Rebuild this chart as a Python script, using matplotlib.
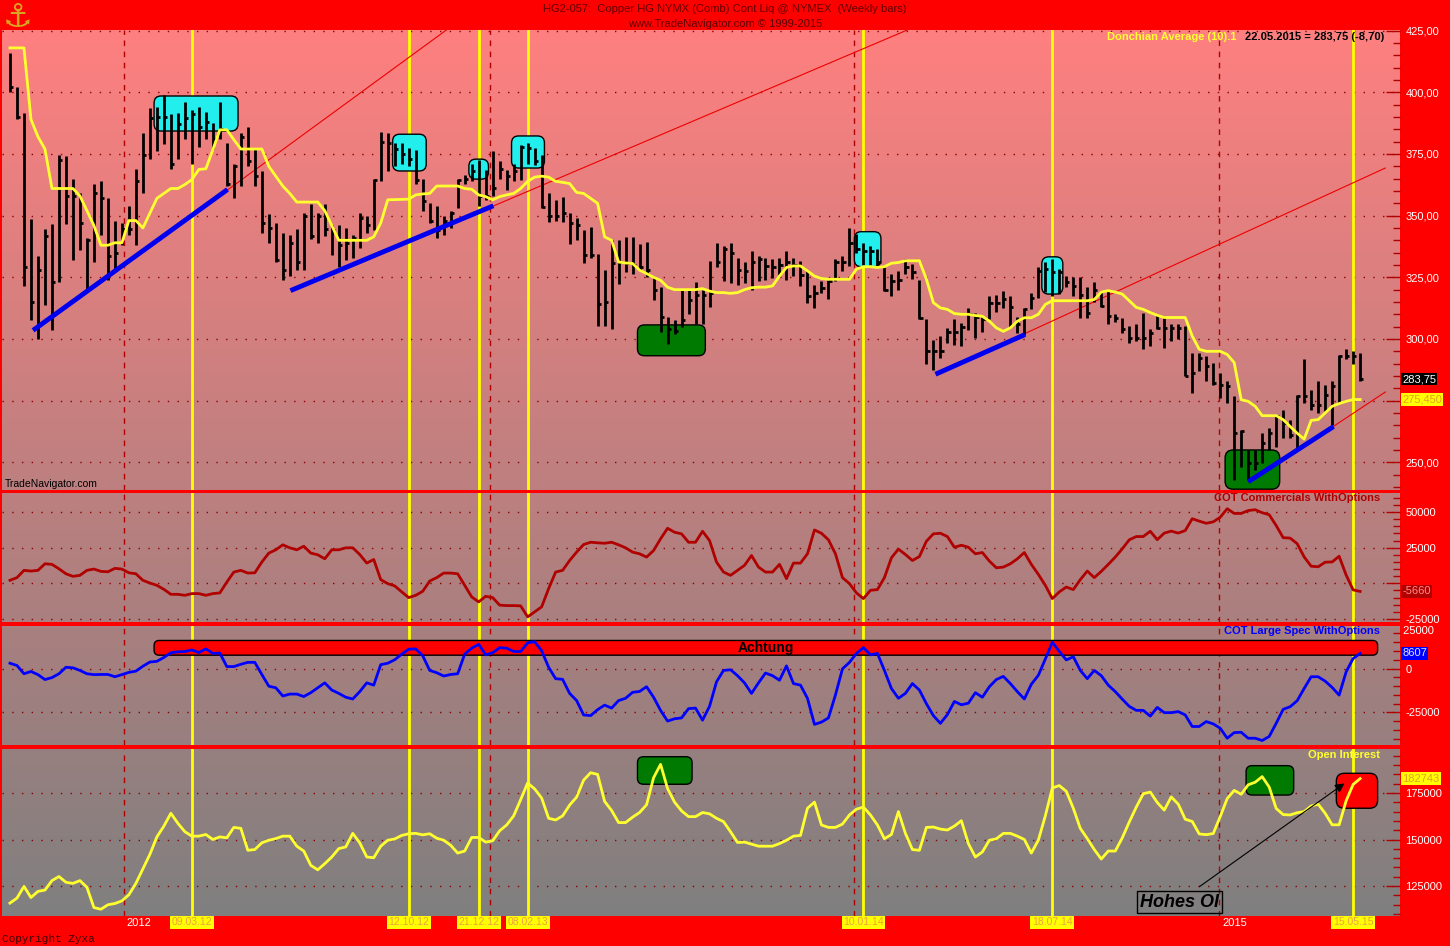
import numpy as np
import pandas as pd
import matplotlib
matplotlib.use("Agg")
import matplotlib.pyplot as plt
import matplotlib.transforms as mtrans
from matplotlib.patches import FancyBboxPatch
from matplotlib.ticker import MultipleLocator, FuncFormatter

plt.rcParams['font.family'] = ['Liberation Sans', 'DejaVu Sans']

# ---- weekly copper bars ----
first_bar = "2011-09-09"

highs = [416, 402, 391.5, 348.5, 333.7, 344.5, 346.5, 374.7, 374, 365,
         359, 341, 363, 364, 357, 348, 347, 354, 369, 383.5,
         393.5, 394, 399, 391, 391.5, 396, 393, 394, 392, 387.5,
         396, 379.4, 371, 383.5, 386, 377.4, 368, 350.5, 347, 343,
         342, 344.5, 351, 354.6, 351, 354.6, 346, 346, 345, 342,
         351, 350, 365, 384, 383.6, 379.5, 379.5, 377.4, 376.8, 365,
         355, 354, 350, 352, 365, 366.6, 371, 372.7, 368.6, 376,
         372, 368.6, 371, 378.8, 379.5, 377.4, 374.7, 359, 356.4, 357.7,
         351, 349, 344, 345.5, 334.6, 327.9, 340, 340, 341.4, 341.4,
         338.7, 339.4, 325, 321, 308.8, 307.5, 319.7, 319.7, 323, 320,
         331.7, 339, 337.8, 339, 333, 331, 335.7, 333.7, 333, 332.3,
         333, 335.7, 333, 331.7, 328, 322, 323.5, 324, 332.3, 333.7,
         345, 342.5, 339, 337.8, 336.4, 329, 326.2, 327.6, 332.3, 330.3,
         324, 308, 299.7, 301, 304.5, 308, 306.5, 312.6, 310.6, 309,
         317.4, 318, 319.4, 317.4, 309, 312.6, 318.8, 329, 331, 332.5,
         328.4, 325.7, 325, 325, 321, 323, 318.9, 319.6, 310, 308.7,
         305.3, 306, 310.7, 304, 310, 309.4, 306, 306, 305.3, 294.4,
         294.4, 293, 290.4, 286.3, 283, 276.8, 263, 255, 255, 261.8,
         263.8, 269.3, 271.3, 267.3, 277.4, 291.7, 279.5, 283, 281.5, 283,
         293.7, 295.8, 295, 294.4]

lows = [400, 389, 321.6, 307.5, 300, 313.6, 303.5, 323, 346.5, 332,
        336, 320, 331, 342, 324, 328, 338, 342, 338, 359,
        373, 376, 379, 369, 373, 381, 371, 378, 381, 377,
        381, 362, 357, 362, 370, 362, 343, 339, 331, 324,
        325.7, 328, 328, 340.5, 339, 341.8, 334, 329, 332, 333,
        337, 343, 344, 364, 368, 370, 371, 370, 363, 352,
        347, 341, 342, 345, 353, 363, 364, 354, 356.4, 358,
        365, 360.5, 364, 364.5, 371, 370.6, 353, 347.6, 348, 347.6,
        338.7, 340, 330.6, 333, 305.4, 305.4, 304, 322.4, 327, 326.5,
        327.9, 325, 315.6, 303, 298, 302, 304.8, 310, 306, 306,
        313, 329, 323.5, 322.8, 322, 322.8, 320, 323.5, 324, 324.9,
        326, 324, 325.5, 321.5, 314.7, 312.6, 318.8, 316, 323.5, 327.6,
        329.6, 335, 330, 330, 329.6, 319.4, 317.4, 320, 326.2, 324.2,
        308, 290, 287.5, 292.3, 298.4, 297.7, 297, 303.8, 300.4, 303,
        308, 311, 312.6, 305, 302.4, 301.8, 312, 316.7, 319, 317.5,
        318.2, 321, 317.5, 308.7, 308.7, 314.8, 312.8, 306, 306.7, 302.6,
        298.5, 299, 295.8, 297, 304, 296.5, 299, 300, 285, 278,
        287, 283, 281.5, 276, 274, 242.8, 248, 242.8, 246.9, 249.6,
        255, 256.4, 259.8, 259.8, 255.7, 274, 271.3, 270, 270.6, 265.2,
        274, 291.7, 289.7, 283]

closes = [402, 390, 329, 315, 328, 341.8, 323, 372.7, 358, 358,
          347, 340, 359, 357, 333.7, 335, 344.5, 344.5, 364, 374.7,
          389.5, 390, 390, 371, 387, 389.5, 391, 386, 388, 381,
          385, 363, 370, 382, 372, 366, 347, 345, 332, 328,
          339, 331, 350, 341.8, 350, 344.5, 344, 338, 339, 341,
          349, 346, 364.5, 380, 379.5, 377, 375, 373, 364.5, 356,
          348, 344, 348, 351, 364.5, 365, 368, 358, 358, 361,
          369, 366, 368, 378, 377.4, 372, 353.7, 350, 350, 351,
          347, 346, 334, 334, 314, 315, 330.6, 331, 330.6, 330,
          329, 328, 320, 308.8, 304, 303.4, 307.5, 315.6, 318, 318,
          318.8, 331, 336.4, 335, 328, 327.6, 331, 332.3, 329.6, 329,
          330, 331, 330, 326, 317.4, 318.8, 320.8, 323.5, 331, 331,
          339, 336.4, 335.7, 335.7, 331, 320, 323.5, 324, 329, 327,
          308.6, 295, 295, 295, 303, 303, 305, 310, 309, 308,
          314.7, 314.7, 316, 313, 306, 312, 316.7, 327.6, 328.4, 327,
          327, 323, 321.6, 318, 310.7, 320, 313.5, 309.4, 308.7, 304,
          300.5, 300.5, 300.5, 302.6, 304.6, 304.6, 304.6, 304.6, 285, 286,
          292.4, 289, 282, 281.5, 280.8, 262, 262.5, 249.6, 249.6, 257.7,
          261.8, 268.6, 265.9, 261, 276.8, 276.8, 273.4, 273.4, 277.4, 280.8,
          293, 293, 293, 283.75]

donchian = [418, 418, 418, 389, 382, 377, 361, 361, 361, 361,
            358, 352, 346, 338, 338, 339, 339, 348, 348, 345,
            351, 357, 359, 361, 361, 362.6, 364.6, 368.7, 369, 376.7,
            384.8, 384.8, 380.8, 377, 377, 377, 377, 370, 366, 362,
            359, 355.5, 355.5, 355.5, 355.5, 352, 346, 340, 340, 340,
            340, 340, 341.4, 347, 356.4, 356.5, 356.6, 356.7, 358.4, 358.8,
            359, 362, 362, 362, 362, 361, 360.7, 358.4, 357.7, 356.4,
            357.7, 358.4, 359, 361, 363.9, 365.6, 366, 365.6, 363.9, 363.5,
            363, 359.4, 359, 357, 355, 341.4, 340, 331.2, 330.8, 330.6,
            327.9, 326.5, 325, 323.8, 321, 320, 320, 320, 320, 320.4,
            319.4, 318.8, 318.8, 318.5, 318.8, 320, 320.8, 321, 321, 321.5,
            325.5, 329, 329.6, 329.6, 327.6, 325.5, 324.5, 324.2, 324.2, 324.2,
            324.2, 328.3, 329.3, 329.3, 329, 329.3, 330.7, 331, 331.7, 331.7,
            331.7, 324.2, 314.7, 312.6, 312, 310.3, 310, 310, 309.5, 309.2,
            307.2, 304.5, 303.1, 304.5, 307.2, 308.6, 308.6, 310, 314, 315.5,
            315.5, 315.5, 315.5, 315.5, 315.5, 316, 319, 319.6, 319, 318.2,
            315.5, 312.8, 312, 310.7, 309.6, 308.7, 308.7, 308.7, 308.7, 301.2,
            295.8, 295, 295, 295, 293.7, 290.4, 275.4, 274.7, 272.7, 268.9,
            268.9, 268.9, 267.3, 264.5, 261.8, 259.4, 267, 267.3, 270, 272.7,
            273.8, 274.7, 275.45, 275.45]

commercials = [2100, 4000, 9100, 8600, 9100, 13700, 13300, 10200, 6700, 4900,
               5600, 9100, 10000, 8400, 8100, 10500, 10000, 7400, 6700, 2100,
               200, -1400, -4200, -7700, -7700, -8400, -7200, -7200, -8400, -7200,
               -6700, 900, 7900, 9100, 7200, 7400, 14900, 21200, 23500, 27000,
               24900, 23500, 26000, 21200, 20000, 17200, 23500, 23500, 24900, 24900,
               20200, 14200, 16700, 2600, -200, -1800, -6000, -10000, -8400, -5600,
               1600, 4000, 7200, 7200, 6700, -1400, -9500, -13000, -9100, -10000,
               -15300, -15600, -15600, -15800, -23500, -20000, -16500, -3700, 7900, 9100,
               16000, 21900, 27200, 28800, 28400, 28100, 28800, 27000, 24900, 21900,
               20700, 18400, 23000, 31200, 38600, 35800, 34700, 28800, 28800, 36500,
               30000, 14900, 7900, 5600, 9100, 12600, 19500, 11400, 7900, 7900,
               13300, 3300, 14200, 14200, 20700, 37400, 35100, 30500, 20700, 4000,
               -200, -6700, -10700, -4900, -4400, 4000, 17900, 24000, 20200, 16000,
               18800, 29500, 34700, 35100, 32800, 25300, 26700, 25300, 20700, 21600,
               15600, 10900, 11400, 13700, 17200, 21600, 13300, 6300, -1400, -10700,
               -6000, -2600, -4400, 2600, 8600, 4000, 8400, 13300, 18400, 24200,
               30500, 32800, 32800, 36500, 30600, 35200, 36600, 35200, 37000, 45300,
               43600, 42100, 43100, 46300, 52300, 49000, 49000, 51000, 51600, 49500,
               48100, 40500, 32000, 31700, 27800, 18500, 12000, 11600, 14800, 15000,
               19000, 5800, -4600, -5660]

large_spec = [3000, 1700, -3000, -1700, -3500, -6300, -5200, -3000, 700, 400,
              -1100, -3000, -3500, -3400, -3400, -4700, -3500, -2200, -1500, 1300,
              3700, 4100, 6300, 9000, 9500, 9700, 10600, 9100, 11200, 8600,
              8800, 1100, 1100, 2400, 3500, 3500, -3400, -10100, -11000, -15700,
              -14600, -14600, -16000, -13800, -11000, -8200, -12300, -14200, -16400, -17400,
              -13200, -8200, -9500, 2200, 3000, 5000, 8200, 11000, 11200, 7300,
              -1100, -2400, -4300, -3400, -3000, 8200, 11600, 13800, 7800, 9000,
              11900, 11600, 9700, 9700, 14700, 15300, 10100, 700, -5800, -6200,
              -14200, -18300, -26500, -26900, -23500, -20900, -22600, -18300, -17000, -13600,
              -13100, -10400, -16400, -23900, -30000, -28700, -28200, -22900, -22600, -29500,
              -21600, -7600, -1100, -700, -4100, -8200, -14200, -8200, -2600, -4100,
              -6700, 1500, -8600, -9500, -17000, -31900, -30600, -28200, -15100, -200,
              3500, 8600, 11900, 7800, 8600, -1100, -11400, -17000, -14200, -8600,
              -12300, -20100, -26900, -31300, -26300, -18800, -20700, -19800, -13800, -16400,
              -10400, -6300, -4500, -8600, -13200, -17400, -9000, -3900, 5400, 15000,
              9700, 4900, 6700, -1100, -5800, -1100, -4100, -9500, -13200, -17500,
              -21600, -23900, -23900, -27200, -22200, -25200, -25200, -24600, -26500, -33100,
              -33100, -30300, -31600, -34100, -39800, -36600, -36400, -39800, -39800, -41100,
              -38800, -31300, -23300, -21800, -18400, -11400, -4700, -4700, -7200, -10800,
              -15200, -1900, 5700, 8607]

open_interest = [115800, 118500, 124800, 118800, 122100, 122800, 127900, 130100, 127000, 126400,
                 127900, 124300, 113400, 112500, 114900, 115600, 117000, 120300, 126400, 134200,
                 142000, 151400, 157200, 164100, 158700, 154200, 151800, 151800, 152700, 150000,
                 151400, 150900, 156500, 156000, 144200, 144600, 148200, 149600, 150500, 151800,
                 151800, 146400, 143800, 136100, 133700, 137000, 140600, 145100, 146000, 153300,
                 148200, 140600, 140200, 146400, 149600, 150300, 152200, 153100, 153300, 152500,
                 153100, 150700, 149600, 146900, 142700, 143800, 151100, 151100, 148600, 149300,
                 154700, 157800, 162700, 171400, 180400, 177200, 172300, 161400, 160500, 162700,
                 168500, 172800, 181900, 185900, 185000, 170500, 165600, 159100, 159100, 162000,
                 164500, 168700, 183200, 190400, 177400, 170100, 165400, 162300, 162300, 164500,
                 163800, 161400, 159600, 154200, 148400, 148600, 147500, 146400, 146400, 146400,
                 147800, 149600, 151800, 152200, 166800, 170100, 157800, 156500, 156500, 158300,
                 163200, 166300, 167400, 163200, 157800, 150400, 152700, 165000, 153300, 144600,
                 144200, 156500, 156700, 155600, 155100, 157200, 160100, 147800, 140600, 143300,
                 149600, 150400, 153300, 153300, 151800, 150000, 142700, 149600, 162700, 177700,
                 179000, 175900, 166800, 156000, 150500, 144600, 139500, 143800, 143800, 150900,
                 159400, 167400, 174600, 175500, 169900, 165800, 172900, 169000, 160900, 159700,
                 153000, 152600, 153200, 162300, 172000, 176400, 174300, 179400, 180800, 183800,
                 178200, 166700, 163400, 163200, 164400, 165000, 168000, 169000, 164100, 157900,
                 157900, 170800, 179600, 182743]

event_dates = ["2012-03-09", "2012-10-12", "2012-12-21", "2013-02-08",
               "2014-01-10", "2014-07-18", "2015-05-15"]
event_labels = ["09.03.12", "12.10.12", "21.12.12", "08.02.13",
                "10.01.14", "18.07.14", "15.05.15"]
years = [2012, 2013, 2014, 2015]
labelled_years = [2012, 2015]   # 2013 and 2014 sit under the date boxes

dates = pd.date_range(first_bar, periods=len(closes), freq="7D")
x = ((dates - dates[0]).days / 7.0).to_numpy()


def pos(d):
    return (pd.Timestamp(d) - dates[0]).days / 7.0


# ---- figure layout (pixel based) ----
W, H = 1450, 946
fig = plt.figure(figsize=(W / 100, H / 100), dpi=100, facecolor="#FF0000")

TOP_COL = np.array([1.0, 0.5, 0.5])
BOT_COL = np.array([0.5, 0.5, 0.5])


def grad(py):
    t = (py - 30) / (916 - 30)
    return TOP_COL + (BOT_COL - TOP_COL) * t


def lim(v1, p1, v2, p2, top, bot):
    k = (v2 - v1) / (p2 - p1)
    return v1 + (bot - p1) * k, v1 + (top - p1) * k


def make_panel(top, bot, ylims, major, minor, fmt):
    ax = fig.add_axes([2 / W, 1 - bot / H, 1398 / W, (bot - top) / H])
    ax.set_facecolor("none")
    g = np.linspace(0, 1, 200)[:, None, None]
    img = grad(top) * (1 - g) + grad(bot) * g
    ax.imshow(img, extent=[0, 1, 0, 1], transform=ax.transAxes, aspect="auto", zorder=0)
    ax.set_xlim(-1.14, 198.7)
    ax.set_ylim(*ylims)
    for s in ax.spines.values():
        s.set_visible(False)
    ax.set_xticks([])
    ax.yaxis.tick_right()
    ax.yaxis.set_major_locator(MultipleLocator(major))
    ax.yaxis.set_minor_locator(MultipleLocator(minor))
    ax.yaxis.set_major_formatter(FuncFormatter(fmt))
    ax.tick_params(axis="y", which="major", direction="in", length=10, width=1,
                   color="#B00000", labelcolor="white", labelsize=8, pad=4)
    ax.tick_params(axis="y", which="minor", direction="in", length=5, width=1, color="#B00000")
    ax.grid(axis="y", which="major", color="#8B0000", linestyle=(0, (1, 6)), lw=1)
    ax.set_axisbelow(True)
    for yr in years:
        ax.axvline(pos(f"{yr}-01-01"), color="#B00000", ls=(0, (4, 4)), lw=1, zorder=1)
    for d in event_dates:
        ax.axvline(pos(d), color="#FFFF00", lw=2, zorder=2)
    return ax


# labels hidden behind the value tags are left blank
price_fmt = lambda v, _: "" if abs(v - 275) < 1 else f"{v:.2f}".replace(".", ",")
com_fmt = lambda v, _: "" if abs(v) < 1 else f"{v:.0f}"
int_fmt = lambda v, _: f"{v:.0f}"

ax_p = make_panel(30, 490, lim(400, 92.3, 250, 462.3, 30, 490), 25, 5, price_fmt)
ax_c = make_panel(493, 622, lim(50000, 512, -25000, 619, 493, 622), 25000, 5000, com_fmt)
ax_s = make_panel(626, 745, lim(0, 668.5, -25000, 712.3, 626, 745), 25000, 5000, int_fmt)
ax_o = make_panel(749, 916, lim(175000, 793, 125000, 886, 749, 916), 25000, 5000, int_fmt)


def rbox(ax, x0, x1, y0, y1, fc, r=7, z=3):
    inv = ax.transData.inverted()
    (a0, b0), (a1, b1) = inv.transform([(0, 0), (1, 1)])
    ux, uy = abs(a1 - a0), abs(b1 - b0)
    ax.add_patch(FancyBboxPatch((x0, y0), x1 - x0, y1 - y0,
                                boxstyle=f"round,pad=0,rounding_size={r * ux}",
                                mutation_aspect=uy / ux, fc=fc, ec="black", lw=1, zorder=z))


# ---- price panel ----
cyan_boxes = [(20.6, 32.6, 384.3, 398.5), (54.7, 59.5, 368.1, 383.0), (65.6, 68.4, 364.8, 372.9),
              (71.7, 76.4, 369.3, 382.3), (120.7, 124.5, 329.3, 343.5), (147.5, 150.5, 318.2, 333.3)]
for b in cyan_boxes:
    rbox(ax_p, *b, fc="#22EEEE", r=7)
rbox(ax_p, 89.7, 99.4, 293.2, 305.7, fc="#007A00", r=7)
rbox(ax_p, 173.7, 181.5, 239.1, 255.0, fc="#007A00", r=8)

red_trends = [((31.1, 360.4), (62.4, 425.3)), ((69.1, 353.9), (128.3, 425.3)),
              ((144.7, 301.7), (196.6, 369.3)), ((189.1, 264.4), (196.6, 278.5))]
for (a, b) in red_trends:
    ax_p.plot([a[0], b[0]], [a[1], b[1]], color="#EE0000", lw=0.8, zorder=3)

ax_p.vlines(x, lows, highs, colors="black", lw=2, zorder=5)
ax_p.hlines(closes, x, x + 0.45, colors="black", lw=2, zorder=5)
ax_p.plot(x, donchian, color="#FFFF30", lw=2, zorder=6)

blue_trends = [((3.3, 303.5), (31.1, 360.6)), ((40.1, 319.6), (69.1, 354.0)),
               ((132.3, 285.7), (145.1, 301.8)), ((177.0, 242.1), (189.2, 264.5))]
for (a, b) in blue_trends:
    ax_p.plot([a[0], b[0]], [a[1], b[1]], color="#0000EE", lw=3.5, zorder=7,
              solid_capstyle="butt")

# ---- commercials ----
ax_c.plot(x, commercials, color="#B00000", lw=2, zorder=6)

# ---- large spec ----
rbox(ax_s, 20.6, 195.5, 7600, 16000, fc="#FF0000", r=5)
ax_s.text(108.1, 11800, "Achtung", ha="center", va="center", fontsize=10,
          fontweight="bold", color="black", zorder=4)
ax_s.plot(x, large_spec, color="#0000FF", lw=2, zorder=6)
ax_s.text(1.0, 1.0, " 25000", transform=ax_s.transAxes, ha="left", va="top",
          fontsize=8, color="white", clip_on=False)

# ---- open interest ----
rbox(ax_o, 89.7, 97.5, 179700, 194500, fc="#007A00", r=6)
rbox(ax_o, 176.7, 183.5, 173900, 189700, fc="#007A00", r=6)
rbox(ax_o, 189.6, 195.5, 166800, 185600, fc="#FF0000", r=8)
ax_o.plot(x, open_interest, color="#FFFF30", lw=2, zorder=6)
ax_o.annotate("", xy=(191.1, 181080), xytext=(169.7, 123760),
              arrowprops=dict(arrowstyle="-|>", color="black", lw=0.8, mutation_scale=14),
              zorder=7)
ax_o.text(167.2, 116300, "Hohes OI", ha="center", va="center", fontsize=13,
          fontweight="bold", style="italic", color="black", zorder=8,
          bbox=dict(boxstyle="square,pad=0.15", fc="none", ec="black", lw=1))

# ---- value tags on the right scale ----
def tag(ax, v, s, fc, tc):
    tr = mtrans.blended_transform_factory(ax.transAxes, ax.transData)
    ax.text(1.0015, v, s, transform=tr, ha="left", va="center", fontsize=8, color=tc,
            bbox=dict(boxstyle="square,pad=0.12", fc=fc, ec="none"), clip_on=False, zorder=10)


tag(ax_p, closes[-1], "283,75", "black", "white")
tag(ax_p, donchian[-1], "275,450", "#FFFF00", "#E8A020")
tag(ax_c, commercials[-1], "-5660", "#B00000", "#FF8C8C")
tag(ax_s, large_spec[-1], "8607", "#0000FF", "#DDDDFF")
tag(ax_o, open_interest[-1], "182743", "#FFFF00", "#E8A020")

# ---- bottom date labels ----
trb = mtrans.blended_transform_factory(ax_o.transData, ax_o.transAxes)
for yr in labelled_years:
    ax_o.text(pos(f"{yr}-01-01") + 0.4, -0.012, str(yr), transform=trb, color="white",
              fontsize=8, ha="left", va="top", clip_on=False, zorder=5)
for d, lab in zip(event_dates, event_labels):
    ax_o.text(pos(d), -0.008, lab, transform=trb, ha="center", va="top", fontsize=7.5,
              color="#F0A040", clip_on=False, zorder=6,
              bbox=dict(boxstyle="square,pad=0.15", fc="#FFFF00", ec="none"))


# ---- header and panel titles ----
def ftxt(px, py, s, **kw):
    fig.text(px / W, 1 - py / H, s, va="center", **kw)


ftxt(725, 9, "HG2-057:  Copper HG NYMX (Comb) Cont Liq @ NYMEX  (Weekly bars)",
     ha="center", fontsize=8, color="#600000")
ftxt(725, 24, "www.TradeNavigator.com \u00a9 1999-2015", ha="center", fontsize=8, color="#600000")
ftxt(18, 17, "\u2693", ha="center", fontsize=24, color="#DAA520", family="DejaVu Sans")
ftxt(1236, 37, "Donchian Average (10).1", ha="right", fontsize=8, fontweight="bold", color="#FFFF30")
ftxt(1245, 37, "22.05.2015 = 283,75 (-8,70)", ha="left", fontsize=8, fontweight="bold", color="black")
ftxt(5, 484, "TradeNavigator.com", ha="left", fontsize=7.5, color="black")
ftxt(1380, 498, "COT Commercials WithOptions", ha="right", fontsize=8, fontweight="bold", color="#B00000")
ftxt(1380, 631, "COT Large Spec WithOptions", ha="right", fontsize=8, fontweight="bold", color="#0000FF")
ftxt(1380, 755, "Open Interest", ha="right", fontsize=8, fontweight="bold", color="#FFFF30")
ftxt(2, 939, "Copyright Zyxa", ha="left", fontsize=8, color="#400000", family="Liberation Mono")

fig.savefig("out.png", dpi=100, facecolor=fig.get_facecolor())
